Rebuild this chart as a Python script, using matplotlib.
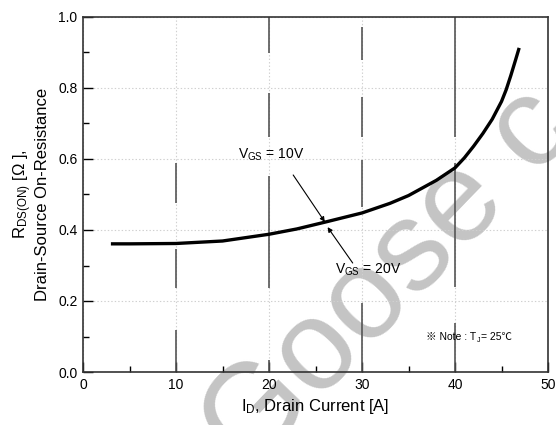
import matplotlib
matplotlib.use("Agg")
import matplotlib.pyplot as plt
from matplotlib.ticker import MultipleLocator

# ---- data ----
drain_current = [3, 5, 10, 15, 20, 23, 26, 30, 33, 35, 38, 40, 41, 42, 43, 44, 45, 45.5, 46, 46.5, 46.9]
rds_on = [0.361, 0.361, 0.362, 0.369, 0.388, 0.403, 0.422, 0.448, 0.475, 0.497,
          0.540, 0.575, 0.603, 0.636, 0.672, 0.712, 0.762, 0.795, 0.835, 0.878, 0.913]
x_ticks = [0, 10, 20, 30, 40, 50]
y_ticks = [0.0, 0.2, 0.4, 0.6, 0.8, 1.0]
y_tick_labels = ["0.0", "0.2", "0.4", "0.6", "0.8", "1.0"]
vgrid_x = [10, 20, 30, 40]
label_10v = "V$_{\\mathrm{GS}}$ = 10V"
label_20v = "V$_{\\mathrm{GS}}$ = 20V"
note_main = "※ Note : T"
note_sub = "J"
note_end = "= 25℃"

plt.rcParams["font.family"] = ["Liberation Sans", "Noto Sans CJK SC", "DejaVu Sans"]
plt.rcParams["mathtext.fontset"] = "custom"
plt.rcParams["mathtext.rm"] = "Liberation Sans"
plt.rcParams["mathtext.it"] = "Liberation Sans"
plt.rcParams["lines.scale_dashes"] = False

fig = plt.figure(figsize=(5.56, 4.25), dpi=100)
ax = fig.add_axes([83 / 556, 1 - 372 / 425, 465 / 556, 355 / 425])

# watermark (behind everything)
fig.text(0.70, 0.34, "Goose c", fontsize=92, color="#c4c4c4", rotation=46,
         ha="center", va="center", zorder=-5)

ax.set_xlim(0, 50)
ax.set_ylim(0, 1.0)
ax.patch.set_alpha(0)

# faint dotted grid
ax.set_xticks(x_ticks)
ax.set_yticks(y_ticks)
ax.set_yticklabels(y_tick_labels)
ax.grid(True, which="major", linestyle=(0, (1, 1.5)), color="#d0d0d0", linewidth=0.8)

# long dashed vertical lines (pattern in points, from the bottom up)
px = 0.72
dash_patterns = {
    10: [42, 42, 39, 46, 40, 146],
    20: [12, 72, 112, 39, 44, 40, 36, 10],
    30: [69, 96, 47, 23, 40, 37, 33, 10],
    40: [49, 36, 124, 26, 120, 1],
}
for xv in vgrid_x:
    seq = tuple(v * px for v in dash_patterns[xv])
    ax.axvline(xv, color="#555555", linewidth=1.2, linestyle=(0, seq), zorder=2)

ax.plot(drain_current, rds_on, color="black", linewidth=2.4, zorder=3,
        solid_capstyle="butt", solid_joinstyle="round")

# annotations
ax.text(16.7, 0.611, label_10v, fontsize=10, ha="left", va="center", zorder=4)
ax.annotate("", xy=(26.0, 0.423), xytext=(22.6, 0.555),
            arrowprops=dict(arrowstyle="-|>", color="black", lw=0.8,
                            mutation_scale=7, shrinkA=0, shrinkB=0), zorder=4)
ax.text(27.1, 0.287, label_20v, fontsize=10, ha="left", va="center", zorder=4)
ax.annotate("", xy=(26.3, 0.408), xytext=(29.0, 0.307),
            arrowprops=dict(arrowstyle="-|>", color="black", lw=0.8,
                            mutation_scale=7, shrinkA=0, shrinkB=0), zorder=4)

t1 = ax.text(36.9, 0.085, note_main, fontsize=7.5, ha="left", va="bottom", zorder=4)
t2 = ax.annotate(note_sub, xy=(1, 0), xycoords=t1, xytext=(0.3, -1.5),
                 textcoords="offset points", fontsize=5, ha="left", va="bottom", zorder=4)
ax.annotate(note_end, xy=(1, 0), xycoords=(t2, t1), xytext=(0.8, 0),
            textcoords="offset points", fontsize=7.5, ha="left", va="bottom", zorder=4)

# ticks
ax.xaxis.set_minor_locator(MultipleLocator(5))
ax.yaxis.set_minor_locator(MultipleLocator(0.1))
ax.tick_params(which="major", direction="in", length=7, width=1.0, labelsize=10,
               pad=4, top=False, right=False)
ax.tick_params(which="minor", direction="in", length=4, width=1.0, top=False, right=False)
for s in ax.spines.values():
    s.set_linewidth(1.2)
    s.set_color("#333333")

ax.set_xlabel("I$_{\\mathrm{D}}$, Drain Current [A]", fontsize=12, labelpad=4)
ax.set_ylabel("R$_{\\mathrm{DS(ON)}}$ [Ω ],\nDrain-Source On-Resistance", fontsize=12,
              labelpad=6, linespacing=1.1)

fig.savefig("out.png", dpi=100)
